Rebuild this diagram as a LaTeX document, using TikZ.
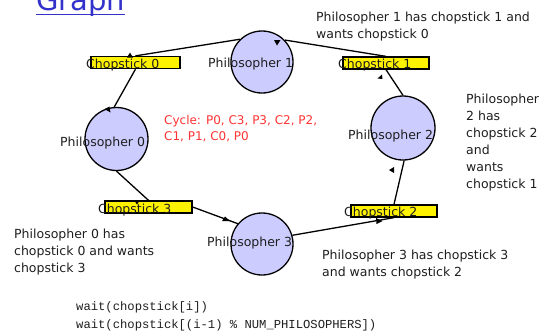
\documentclass[tikz,border=0pt]{standalone}
\usepackage{fontspec}
\setmainfont{DejaVu Sans}
\newfontfamily\codefont{Liberation Mono}
\definecolor{philfill}{RGB}{204,204,255}
\definecolor{titleblue}{RGB}{51,51,204}
\definecolor{cyclered}{RGB}{255,51,51}
\definecolor{txt}{RGB}{30,30,30}
\begin{document}
\begin{tikzpicture}[x=1pt,y=-1pt,
  phil/.style={circle, draw, line width=1.3pt, fill=philfill, inner sep=0pt, minimum size=#1},
  phil/.default=62pt,
  stick/.style={draw, line width=1.3pt, fill=yellow, inner sep=0pt, minimum height=12pt, minimum width=#1},
  lbl/.style={font=\fontsize{12.5}{17}\selectfont, inner sep=0pt, text=txt, anchor=base west},
  note/.style={font=\fontsize{12.5}{17}\selectfont, inner sep=0pt, text=txt, align=left, anchor=north west},
  conn/.style={line width=1.3pt},
  tip/.style={fill=black}]
\useasboundingbox (0,0) rectangle (550,330);

% title
\node[anchor=base west, inner sep=0pt, font=\fontsize{29}{31}\selectfont, text=titleblue] (title) at (36,10.5) {Graph};
\draw[titleblue, line width=1.4pt] ([yshift=-4pt]title.base west) -- ([yshift=-4pt]title.base east);

% nodes
\node[phil] (p1) at (262,62) {};
\node[phil=63pt] (p0) at (116.5,139) {};
\node[phil=64pt] (p2) at (403,128) {};
\node[phil] (p3) at (262,244) {};

\node[stick=89pt] (c0) at (135.5,62.5) {};
\node[stick=86pt] (c1) at (386,63) {};
\node[stick=87pt] (c3) at (148.5,207) {};
\node[stick=86pt] (c2) at (394,211) {};

% connectors
\draw[conn] (c0.north) -- (p1.134);
\draw[conn] (c0.south) -- (p0.94);
\draw[conn] (p1.44) -- (c1.north);
\draw[conn] (c1.south) -- (p2.90);
\draw[conn] (p2.272) -- (c2.north);
\draw[conn] (c2.south) -- (p3.16);
\draw[conn] (p3.140) -- (c3.east);
\draw[conn] (c3.north) -- (p0.270);

% small arrowheads
\fill[tip] (130,52.5) -- (127,57.5) -- (133,57.5) -- cycle;
\fill[tip] (110.5,112.5) -- (104.5,109) -- (109.5,106.5) -- cycle;
\fill[tip] (277,45.5) -- (274,40) -- (280.5,40) -- cycle;
\fill[tip] (377.5,78.5) -- (382,74.5) -- (382.5,79) -- cycle;
\fill[tip] (389,170) -- (394,167) -- (394,173) -- cycle;
\fill[tip] (382.5,221) -- (376,218) -- (376.5,224) -- cycle;
\fill[tip] (222,221) -- (230,221) -- (225,216.5) -- cycle;
\fill[tip] (137,204.5) -- (134,200) -- (140,200) -- cycle;

% node texts
\node[lbl] (t0) at (86,68.5) {Chopstick 0};
\node[lbl] (t1) at (338,68) {Chopstick 1};
\node[lbl] (t3) at (98,213) {Chopstick 3};
\node[lbl] (t2) at (344,216) {Chopstick 2};
\node[lbl] (l1) at (208,67) {Philosopher 1};
\node[lbl] (l0) at (60,146) {Philosopher 0};
\node[lbl] (l2) at (348,139) {Philosopher 2};
\node[lbl] (l3) at (207,246) {Philosopher 3};

% annotations
\node[note] (n1) at (316,12) {Philosopher 1 has chopstick 1 and\\wants chopstick 0};
\node[note] (n2) at (466,94) {Philosopher\\2 has\\chopstick 2\\and\\wants\\chopstick 1};
\node[note] (n0) at (14,229) {Philosopher 0 has\\chopstick 0 and wants\\chopstick 3};
\node[note] (n3) at (322,250) {Philosopher 3 has chopstick 3\\and wants chopstick 2};
\node[note, font=\fontsize{12}{16}\selectfont, text=cyclered] (cyc) at (164,115) {Cycle: P0, C3, P3, C2, P2,\\C1, P1, C0, P0};

% code
\node[note, font=\codefont\fontsize{12.2}{18}\selectfont, text=txt] (code) at (76,301) {wait(chopstick[i])\\wait(chopstick[(i-1) \% NUM\_PHILOSOPHERS])};
\end{tikzpicture}
\end{document}
